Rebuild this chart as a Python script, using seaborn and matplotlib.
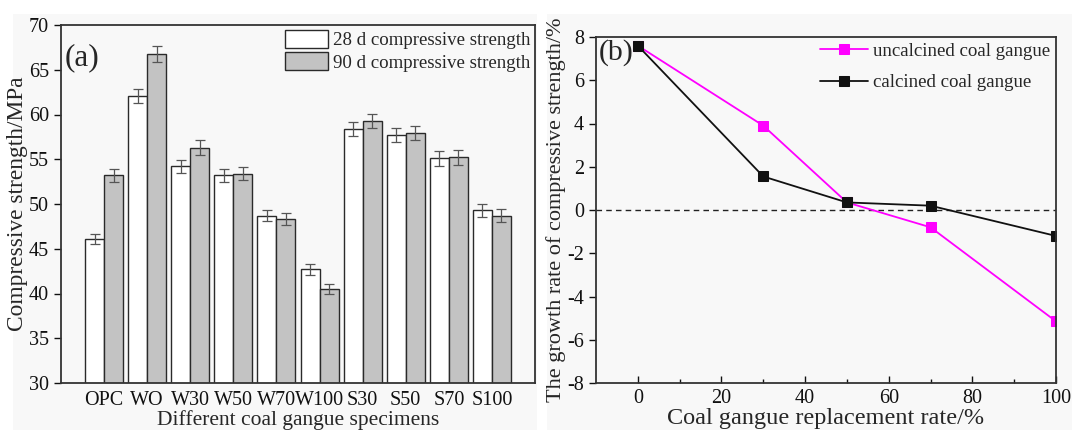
import numpy as np
import pandas as pd
import matplotlib
matplotlib.use("Agg")
import matplotlib.pyplot as plt
import seaborn as sns
from matplotlib.patches import Rectangle

# ---------------- data ----------------
specimens = ["OPC", "WO", "W30", "W50", "W70", "W100", "S30", "S50", "S70", "S100"]
strength_28d = [46.1, 62.1, 54.2, 53.2, 48.7, 42.7, 58.4, 57.7, 55.1, 49.3]
strength_90d = [53.2, 66.8, 56.3, 53.4, 48.3, 40.5, 59.3, 57.9, 55.2, 48.7]
err_28d = [0.6, 0.8, 0.7, 0.7, 0.6, 0.6, 0.8, 0.8, 0.8, 0.7]
err_90d = [0.7, 0.9, 0.8, 0.7, 0.7, 0.6, 0.8, 0.8, 0.8, 0.7]
series_names = ["28 d compressive strength", "90 d compressive strength"]

replacement = [0, 30, 50, 70, 100]
growth_uncalcined = [7.6, 3.9, 0.35, -0.8, -5.15]
growth_calcined = [7.6, 1.55, 0.35, 0.2, -1.2]
line_names = ["uncalcined coal gangue", "calcined coal gangue"]

# ---------------- style ----------------
sns.set_theme(style="ticks")
plt.rcParams["font.family"] = ["Liberation Serif", "DejaVu Serif"]
plt.rcParams["axes.unicode_minus"] = False
spine_col = "#333333"

fig = plt.figure(figsize=(10.72, 4.3), dpi=100)
fig.patch.set_facecolor("white")
W, H = 1072, 430
bg = "#f8f8f8"
fig.patches.append(Rectangle((13 / W, 0), (537 - 13) / W, (430 - 14) / H,
                             transform=fig.transFigure, facecolor=bg, edgecolor="none", zorder=-10))
fig.patches.append(Rectangle((547 / W, 0), (1072 - 547) / W, (430 - 14) / H,
                             transform=fig.transFigure, facecolor=bg, edgecolor="none", zorder=-10))

ax1 = fig.add_axes([61 / W, 47 / H, (535 - 61) / W, (383 - 25) / H])
ax2 = fig.add_axes([596 / W, 47 / H, (1056 - 596) / W, (383 - 37) / H])
for ax in (ax1, ax2):
    ax.set_facecolor(bg)
    for s in ax.spines.values():
        s.set_color(spine_col)
        s.set_linewidth(1.3)
        s.set_visible(True)

# ---------------- panel (a) ----------------
df_bar = pd.DataFrame({
    "specimen": specimens * 2,
    "strength": strength_28d + strength_90d,
    "series": [series_names[0]] * len(specimens) + [series_names[1]] * len(specimens),
})
sns.barplot(data=df_bar, x="specimen", y="strength", hue="series",
            palette=["#ffffff", "#c3c3c3"], width=0.88, edgecolor="#2a2a2a",
            linewidth=1.0, errorbar=None, ax=ax1, legend=True, saturation=1)

errs = err_28d + err_90d
bars = [p for p in ax1.patches if p.get_height() > 0][:len(errs)]
xs = [p.get_x() + p.get_width() / 2 for p in bars]
ys = [p.get_height() for p in bars]
ax1.errorbar(xs, ys, yerr=errs, fmt="none", ecolor="#555555", elinewidth=0.9,
             capsize=3.5, capthick=0.9, zorder=5)

ax1.set_ylim(30, 70)
ax1.set_xlim(-1, 10)
ax1.set_yticks(range(30, 71, 5))
ax1.tick_params(axis="y", direction="out", length=5, width=1, labelsize=14.5, colors="#111111")
ax1.tick_params(axis="x", length=0, labelsize=14.5, pad=6, colors="#111111")
ax1.set_xlabel("Different coal gangue specimens", fontsize=15.5, labelpad=0)
ax1.set_ylabel("Compressive strength/MPa", fontsize=16.8, labelpad=1)
ax1.text(0.008, 0.91, "(a)", transform=ax1.transAxes, fontsize=22.5, va="center", ha="left")
leg = ax1.legend(loc="upper right", frameon=False, fontsize=13.6, handlelength=2.3,
                 handleheight=1.1, handletextpad=0.25, labelspacing=0.15,
                 borderaxespad=0.15, borderpad=0.1)
for h in leg.legend_handles:
    h.set_edgecolor("#2a2a2a")
    h.set_linewidth(1.0)

# ---------------- panel (b) ----------------
df_line = pd.DataFrame({
    "rate": replacement * 2,
    "growth": growth_uncalcined + growth_calcined,
    "kind": [line_names[0]] * len(replacement) + [line_names[1]] * len(replacement),
})
sns.lineplot(data=df_line, x="rate", y="growth", hue="kind", hue_order=line_names,
             palette=["#ff00ff", "#111111"], marker="s", markersize=7.5,
             markeredgecolor=None, linewidth=1.3, ax=ax2)
for ln, c in zip(ax2.get_lines()[:2], ["#ff00ff", "#111111"]):
    ln.set_markeredgecolor(c)

ax2.axhline(0, color="#222222", linestyle=(0, (4, 3)), linewidth=1.0, zorder=0)
ax2.set_xlim(-10, 100)
ax2.set_ylim(-8, 8)
ax2.set_yticks(range(-8, 9, 2))
ax2.set_xticks(range(0, 101, 20))
ax2.set_xticks(range(10, 100, 20), minor=True)
ax2.tick_params(axis="y", direction="out", length=5, width=1, labelsize=14.5, colors="#111111")
ax2.tick_params(axis="x", which="major", direction="in", length=5, width=1,
                labelsize=14.5, colors="#111111", pad=4)
ax2.tick_params(axis="x", which="minor", direction="in", length=3, width=1, colors="#111111")
ax2.set_xlabel("Coal gangue replacement rate/%", fontsize=17.5, labelpad=0.5)
ax2.set_ylabel("The growth rate of compressive strength/%", fontsize=16, labelpad=1)
ax2.text(0.006, 0.955, "(b)", transform=ax2.transAxes, fontsize=21.5, va="center", ha="left")
ax2.legend(loc="upper right", frameon=False, fontsize=13.6, handlelength=2.5,
           handletextpad=0.3, labelspacing=0.75, borderaxespad=0.15, borderpad=0.15)

fig.savefig("out.png", dpi=100, facecolor="white")
